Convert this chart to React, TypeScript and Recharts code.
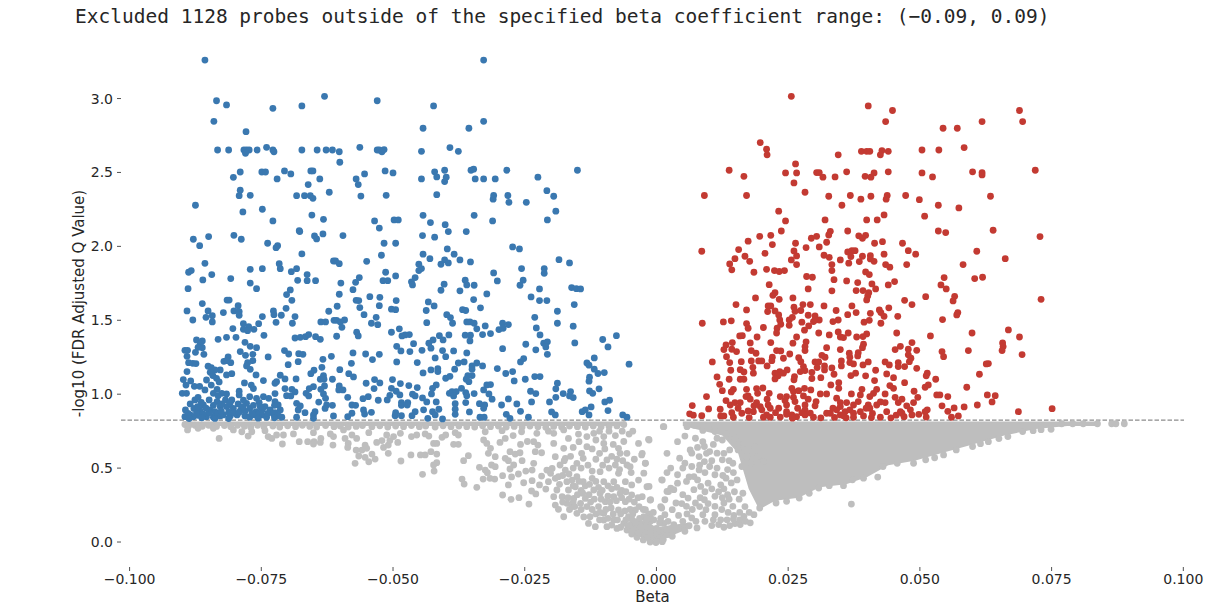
import React from "react";
import {
  ComposedChart,
  Scatter,
  Area,
  XAxis,
  YAxis,
  ReferenceLine,
} from "recharts";

type Pair = [number, number];

const TITLE =
  "Excluded 1128 probes outside of the specified beta coefficient range: (\u22120.09, 0.09)";
const xTicks = [-0.1, -0.075, -0.05, -0.025, 0, 0.025, 0.05, 0.075, 0.1];
const yTicks = [0, 0.5, 1, 1.5, 2, 2.5, 3];
const threshold = 0.825;

// [beta, -log10 q]
const bluePoints: Pair[] = [
  [-0.0857,3.26],[-0.0328,3.26],[-0.0835,2.985],[-0.0816,2.957],[-0.0728,2.934],[-0.0673,2.95],[-0.063,3.015],[-0.053,2.985],[-0.084,2.846],[-0.0779,2.776],
  [-0.0833,2.652],[-0.0812,2.652],[-0.0783,2.652],[-0.0778,2.652],[-0.0773,2.652],[-0.0758,2.652],[-0.0728,2.652],[-0.0673,2.652],[-0.0644,2.652],[-0.0627,2.652],[-0.0615,2.652],[-0.0602,2.64],
  [-0.078,2.63],[-0.0726,2.64],[-0.074,2.67],[-0.0563,2.67],[-0.053,2.652],[-0.0526,2.652],[-0.0521,2.64],[-0.0517,2.655],[-0.0601,2.569],
  [-0.079,2.503],[-0.0749,2.503],[-0.0742,2.503],[-0.0706,2.51],[-0.0694,2.49],[-0.0656,2.51],[-0.0652,2.51],[-0.0515,2.51],[-0.0803,2.467],[-0.072,2.456],[-0.0639,2.456],[-0.057,2.456],[-0.0554,2.49],[-0.0566,2.418],[-0.0661,2.418],
  [-0.079,2.38],[-0.0792,2.343],[-0.0771,2.345],[-0.0683,2.343],[-0.0668,2.343],[-0.0657,2.343],[-0.0652,2.325],[-0.0621,2.366],[-0.0561,2.34],[-0.0513,2.345],[-0.0875,2.278],[-0.0785,2.233],[-0.0748,2.251],[-0.0728,2.172],[-0.0654,2.212],[-0.0632,2.183],[-0.0535,2.172],[-0.0526,2.124],[-0.0678,2.106],
  [-0.0423,2.95],[-0.0443,2.799],[-0.0356,2.799],[-0.0328,2.846],[-0.0446,2.643],[-0.0392,2.668],[-0.0376,2.643],[-0.05,2.497],[-0.0446,2.456],[-0.0421,2.504],[-0.0417,2.47],[-0.0402,2.515],[-0.0399,2.468],[-0.0402,2.438],[-0.0352,2.515],[-0.0347,2.522],[-0.0344,2.456],[-0.0328,2.456],[-0.0306,2.456],[-0.0284,2.515],[-0.0225,2.468],[-0.015,2.515],
  [-0.0208,2.377],[-0.0195,2.339],[-0.0417,2.35],[-0.0309,2.344],[-0.031,2.319],[-0.0282,2.344],[-0.028,2.298],[-0.0247,2.298],[-0.0191,2.238],[-0.0443,2.21],[-0.0346,2.21],[-0.0498,2.179],[-0.049,2.179],[-0.0429,2.161],[-0.0401,2.147],[-0.0311,2.172],[-0.0207,2.179],[-0.0395,2.1],[-0.0361,2.1],[-0.0444,2.073],[-0.0421,2.062],[-0.0495,2.021],
  [-0.0273,1.996],[-0.026,1.983],[-0.0397,1.983],[-0.0443,1.947],[-0.043,1.917],[-0.0384,1.947],[-0.0373,1.908],[-0.0402,1.908],[-0.0409,1.879],[-0.0395,1.888],[-0.0353,1.895],[-0.0185,1.91],[-0.0165,1.888],[-0.0451,1.879],[-0.0446,1.85],[-0.0451,1.836],[-0.0256,1.85],[-0.0213,1.85],[-0.0213,1.818],[-0.0309,1.82],[-0.0495,1.8],[-0.0458,1.789],[-0.0465,1.76],[-0.0463,1.739],[-0.0403,1.744],[-0.0363,1.771],[-0.036,1.739],[-0.0346,1.737],[-0.0302,1.766],[-0.0253,1.771],[-0.0259,1.737],
  [-0.0409,1.703],[-0.0373,1.699],[-0.0322,1.678],[-0.0222,1.712],[-0.0161,1.721],[-0.0152,1.714],[-0.0144,1.712],[-0.0238,1.658],[-0.0494,1.633],[-0.0347,1.64],[-0.0222,1.633],[-0.0208,1.633],[-0.0433,1.624],[-0.0422,1.597],[-0.0156,1.606],[-0.0503,1.575],[-0.0495,1.572],[-0.0437,1.566],[-0.0368,1.572],[-0.0362,1.566],[-0.0334,1.584],[-0.0188,1.561],[-0.0398,1.538],[-0.0391,1.518],[-0.0231,1.52],
  [-0.0436,1.484],[-0.0387,1.48],[-0.036,1.489],[-0.0354,1.489],[-0.0346,1.48],[-0.0292,1.48],[-0.0281,1.471],[-0.0188,1.48],[-0.0325,1.462],[-0.0158,1.46],[-0.0341,1.442],[-0.0299,1.437],[-0.0291,1.446],[-0.0228,1.448],[-0.0488,1.442],[-0.0503,1.419],[-0.033,1.403],[-0.0315,1.41],[-0.0363,1.399],[-0.0353,1.399],[-0.0394,1.401],[-0.0412,1.396],[-0.0469,1.403],[-0.0477,1.401],[-0.0483,1.394],[-0.0221,1.401],[-0.0076,1.396],
  [-0.0424,1.367],[-0.0432,1.345],[-0.0405,1.367],[-0.0354,1.36],[-0.0102,1.37],[-0.0461,1.342],[-0.0248,1.338],[-0.0214,1.345],[-0.0207,1.354],[-0.021,1.32],[-0.0155,1.347],[-0.0493,1.324],[-0.0428,1.311],[-0.0292,1.308],[-0.0229,1.3],[-0.0092,1.32],[-0.0485,1.293],[-0.0468,1.288],[-0.0445,1.297],[-0.0406,1.295],[-0.0385,1.293],[-0.036,1.279],[-0.0207,1.27],[-0.042,1.245],[-0.04,1.254],[-0.0118,1.245],
  [-0.0493,1.218],[-0.0454,1.214],[-0.0376,1.211],[-0.0365,1.218],[-0.0341,1.211],[-0.035,1.191],[-0.033,1.191],[-0.0258,1.218],[-0.0252,1.241],[-0.0132,1.211],[-0.0128,1.196],[-0.0052,1.203],[-0.0415,1.173],[-0.0428,1.164],[-0.0415,1.153],[-0.0383,1.169],[-0.035,1.169],[-0.0302,1.173],[-0.0118,1.169],[-0.0111,1.14],[-0.0099,1.146],[-0.0443,1.144],[-0.0273,1.153],[-0.0286,1.14],
  [-0.0392,1.121],[-0.04,1.108],[-0.035,1.126],[-0.0358,1.126],[-0.0361,1.101],[-0.0356,1.085],[-0.0231,1.119],[-0.0221,1.119],[-0.0249,1.101],[-0.027,1.09],[-0.0127,1.115],[-0.0128,1.088],[-0.0501,1.099],[-0.0188,1.074],[-0.0486,1.072],[-0.047,1.058],[-0.0454,1.045],[-0.0418,1.063],[-0.0425,1.04],[-0.0322,1.063],[-0.0315,1.065],[-0.0328,1.029],[-0.037,1.04],
  [-0.0503,1.04],[-0.0494,1.02],[-0.0487,0.995],[-0.038,1.018],[-0.0388,1.018],[-0.0393,1.006],[-0.0385,0.988],[-0.0362,1.011],[-0.036,0.99],[-0.0346,1.004],[-0.0318,1.002],[-0.0191,1.036],[-0.0239,1.02],[-0.0229,1.004],[-0.0127,1.022],[-0.0121,1.006],[-0.0109,1.036],[-0.0177,1.004],[-0.0163,1.018],[-0.0165,0.988],[-0.0158,0.977],[-0.0191,0.979],[-0.0463,1.0],[-0.0458,0.988],[-0.0427,1.002],[-0.0444,0.975],
  [-0.0436,0.948],[-0.0418,0.948],[-0.0312,0.966],[-0.0281,0.968],[-0.0265,0.934],[-0.0237,0.948],[-0.0203,0.948],[-0.0098,0.948],[-0.0089,0.959],[-0.0484,0.943],[-0.0472,0.943],[-0.0484,0.925],[-0.0473,0.927],[-0.0382,0.936],[-0.0362,0.943],[-0.0336,0.936],[-0.0326,0.927],[-0.0328,0.905],[-0.0294,0.927],[-0.0124,0.914],[-0.0092,0.889],[-0.0141,0.882],[-0.0135,0.894],[-0.0128,0.86],[-0.0413,0.898],[-0.0425,0.882],[-0.042,0.86],[-0.0442,0.894],[-0.0382,0.898],[-0.0382,0.864],[-0.0458,0.882],[-0.0464,0.855],[-0.0355,0.88],[-0.0495,0.875],[-0.0496,0.855],[-0.0484,0.855],[-0.0258,0.884],[-0.0285,0.864],[-0.0278,0.837],[-0.0199,0.88],[-0.0192,0.86],[-0.0064,0.86],[-0.0056,0.844],[-0.0335,0.844],[-0.0327,0.844],[-0.0243,0.844],[-0.0434,0.837],[-0.0406,0.833],
  [-0.0879,2.048],[-0.085,2.066],[-0.0867,2.005],[-0.0802,2.075],[-0.0788,2.048],[-0.0738,2.021],[-0.0719,2.005],[-0.0722,1.991],[-0.0677,2.1],[-0.0649,2.07],[-0.0645,2.05],[-0.0633,2.084],[-0.0595,2.073],[-0.0517,2.021],[-0.0673,1.949],[-0.0522,1.94],[-0.055,1.899],[-0.0613,1.901],[-0.0609,1.901],[-0.0602,1.883],[-0.0857,1.885],[-0.0716,1.883],[-0.0714,1.849],[-0.0771,1.845],[-0.0748,1.849],[-0.0683,1.849],[-0.0693,1.829],[-0.0888,1.825],[-0.0883,1.836],[-0.0844,1.809],[-0.0663,1.809],[-0.0663,1.768],[-0.0514,1.825],[-0.0519,1.768],[-0.051,1.768],[-0.0861,1.773],[-0.0808,1.782],[-0.0771,1.752],[-0.0681,1.77],[-0.0647,1.768],[-0.0599,1.752],[-0.0564,1.789],[-0.0571,1.757],
  [-0.0889,1.714],[-0.0759,1.714],[-0.0695,1.705],[-0.0702,1.674],[-0.0576,1.707],[-0.0602,1.676],[-0.0544,1.66],[-0.0525,1.655],[-0.0692,1.635],[-0.0815,1.637],[-0.0811,1.637],[-0.0862,1.613],[-0.057,1.635],[-0.0565,1.633],[-0.0794,1.599],[-0.0526,1.599],[-0.0606,1.595],[-0.0563,1.586],[-0.0703,1.581],[-0.0891,1.563],[-0.0851,1.563],[-0.0822,1.552],[-0.0802,1.563],[-0.0792,1.559],[-0.0792,1.534],[-0.0727,1.563],[-0.0726,1.538],[-0.0712,1.534],[-0.0622,1.561],[-0.0555,1.538],[-0.0855,1.52],[-0.0843,1.531],[-0.0843,1.489],[-0.0748,1.525],[-0.0686,1.525],[-0.088,1.502],[-0.0722,1.486],[-0.0691,1.48],[-0.0755,1.477],[-0.0637,1.489],[-0.0628,1.489],[-0.0612,1.5],[-0.0607,1.5],[-0.0592,1.502],[-0.06,1.489],[-0.0532,1.52],[-0.0541,1.48],[-0.0529,1.47],
  [-0.0784,1.477],[-0.0774,1.457],[-0.0784,1.439],[-0.0776,1.43],[-0.0764,1.439],[-0.0804,1.444],[-0.0597,1.452],[-0.0745,1.398],[-0.0816,1.385],[-0.0798,1.385],[-0.0686,1.38],[-0.0676,1.385],[-0.0666,1.389],[-0.066,1.403],[-0.0647,1.389],[-0.0638,1.371],[-0.0607,1.392],[-0.0569,1.419],[-0.0566,1.394],[-0.0832,1.371],[-0.0873,1.367],[-0.0862,1.36],[-0.0866,1.338],[-0.0862,1.315],[-0.087,1.317],[-0.0781,1.351],[-0.0771,1.324],[-0.0759,1.315],[-0.0895,1.297],[-0.089,1.297],[-0.0875,1.283],[-0.0859,1.27],[-0.079,1.288],[-0.0706,1.295],[-0.0698,1.272],[-0.0679,1.274],[-0.0671,1.27],[-0.0576,1.279],[-0.0552,1.272],[-0.0526,1.27],[-0.0766,1.27],[-0.078,1.263],[-0.0891,1.256],[-0.0737,1.252],[-0.0617,1.256],[-0.0633,1.236],[-0.0539,1.234],
  [-0.0813,1.252],[-0.0821,1.222],[-0.0808,1.213],[-0.0816,1.227],[-0.0766,1.227],[-0.0776,1.213],[-0.0888,1.213],[-0.088,1.209],[-0.0874,1.207],[-0.068,1.22],[-0.0699,1.2],[-0.0579,1.209],[-0.0851,1.189],[-0.0845,1.18],[-0.0828,1.164],[-0.0838,1.164],[-0.0778,1.191],[-0.0771,1.168],[-0.0635,1.182],[-0.0601,1.166],[-0.065,1.162],[-0.0656,1.139],[-0.0891,1.153],[-0.0584,1.139],[-0.0575,1.117],[-0.0847,1.148],[-0.0842,1.126],[-0.0835,1.107],[-0.083,1.083],[-0.0816,1.13],[-0.0806,1.139],[-0.076,1.13],[-0.0714,1.128],[-0.0705,1.103],[-0.0684,1.103],[-0.0632,1.126],[-0.0638,1.101],[-0.0631,1.101],[-0.0615,1.101],[-0.0535,1.099],[-0.0525,1.076],
  [-0.0898,1.099],[-0.0884,1.09],[-0.0854,1.096],[-0.0746,1.092],[-0.0551,1.074],[-0.0721,1.085],[-0.0724,1.074],[-0.0782,1.076],[-0.0893,1.062],[-0.0877,1.053],[-0.0867,1.053],[-0.0845,1.062],[-0.0769,1.062],[-0.0765,1.038],[-0.0705,1.038],[-0.0692,1.033],[-0.0686,1.015],[-0.0659,1.038],[-0.0651,1.051],[-0.0665,1.006],[-0.066,0.988],[-0.063,1.056],[-0.0637,1.033],[-0.0632,1.002],[-0.0628,0.972],[-0.0602,1.056],[-0.0603,1.029],[-0.0595,1.029],[-0.0536,1.038],[-0.0857,1.029],[-0.0834,1.033],[-0.0825,1.006],[-0.0841,1.006],[-0.0832,0.99],[-0.0816,1.002],[-0.09,1.006],[-0.0892,1.006],[-0.0792,1.02],[-0.0792,0.995],[-0.0724,1.004],[-0.0702,0.99],[-0.0694,0.988],[-0.0547,0.983],[-0.0557,0.97],[-0.0586,0.979],[-0.0506,0.992],[-0.0511,0.961],
  [-0.0772,0.983],[-0.0759,0.972],[-0.0746,0.983],[-0.0736,0.972],[-0.0876,0.961],[-0.087,0.979],[-0.0849,0.961],[-0.0834,0.95],[-0.0818,0.961],[-0.0806,0.961],[-0.0794,0.934],[-0.0778,0.938],[-0.0754,0.943],[-0.0724,0.95],[-0.0718,0.927],[-0.0641,0.947],[-0.0528,0.959],[-0.0885,0.934],[-0.086,0.927],[-0.0683,0.938],[-0.0676,0.92],[-0.0626,0.927],[-0.0615,0.925],[-0.0578,0.927],[-0.0571,0.925],
  [-0.0894,0.893],[-0.0878,0.904],[-0.0867,0.893],[-0.0847,0.893],[-0.0828,0.916],[-0.0838,0.882],[-0.0816,0.916],[-0.0803,0.904],[-0.0789,0.893],[-0.0772,0.904],[-0.076,0.882],[-0.0743,0.916],[-0.0733,0.893],[-0.0714,0.893],[-0.068,0.893],[-0.0648,0.882],[-0.0629,0.904],[-0.0556,0.893],[-0.0541,0.877],[-0.0578,0.871],[-0.0885,0.86],[-0.087,0.857],[-0.0854,0.848],[-0.0822,0.86],[-0.0809,0.853],[-0.0796,0.86],[-0.0781,0.853],[-0.0762,0.86],[-0.0749,0.86],[-0.0727,0.866],[-0.0711,0.844],[-0.0667,0.875],[-0.0651,0.86],[-0.0613,0.853],[-0.0586,0.848],[-0.0554,0.866],[-0.0895,0.848],[-0.0879,0.848],[-0.0841,0.844],[-0.0828,0.853],[-0.0772,0.844],[-0.074,0.844],[-0.0683,0.844],[-0.0651,0.837],
  [-0.0889,0.87],[-0.0873,0.875],[-0.0861,0.868],[-0.0849,0.875],[-0.0833,0.868],[-0.0826,0.885],[-0.0812,0.878],[-0.0801,0.872],[-0.0792,0.878],[-0.0781,0.885],[-0.0768,0.87],[-0.0755,0.868],[-0.0748,0.895],[-0.0738,0.87],[-0.0724,0.875],[-0.0718,0.855],[-0.0812,0.835],[-0.0838,0.836],[-0.0863,0.84],[-0.0887,0.835],[-0.0756,0.838],[-0.0725,0.84],[-0.0871,0.915],[-0.0855,0.905],[-0.0841,0.925],[-0.0825,0.935],[-0.0811,0.925],[-0.0785,0.915],[-0.0765,0.925],[-0.0752,0.915],[-0.0725,0.925],[-0.0864,0.945],[-0.0809,0.942],[-0.0784,0.96],
];

const redPoints: Pair[] = [
  [0.0256,3.015],[0.0402,2.95],[0.0448,2.919],[0.0435,2.844],[0.0689,2.919],[0.0695,2.844],[0.0618,2.844],[0.0544,2.799],[0.0571,2.799],[0.0197,2.702],[0.0209,2.657],[0.021,2.619],[0.0389,2.643],[0.0399,2.643],[0.0405,2.643],[0.0428,2.648],[0.0425,2.619],[0.044,2.643],[0.0345,2.619],[0.0504,2.652],[0.0536,2.652],[0.0584,2.668],[0.0264,2.558],
  [0.0138,2.515],[0.0166,2.474],[0.0245,2.497],[0.0266,2.497],[0.0304,2.499],[0.0309,2.499],[0.0316,2.468],[0.0339,2.47],[0.0361,2.504],[0.0396,2.474],[0.0407,2.468],[0.0413,2.497],[0.044,2.504],[0.0504,2.497],[0.0524,2.47],[0.06,2.504],[0.0618,2.499],[0.0618,2.483],[0.0719,2.515],[0.0261,2.429],[0.0282,2.366],[0.0091,2.344],[0.0171,2.344],[0.0327,2.339],[0.0368,2.344],[0.0388,2.319],[0.0407,2.339],[0.0438,2.344],[0.0436,2.319],[0.0473,2.344],[0.0499,2.316],[0.0634,2.339],
  [0.0352,2.278],[0.0535,2.278],[0.0574,2.26],[0.0232,2.238],[0.0432,2.213],[0.0509,2.204],[0.0245,2.172],[0.032,2.179],[0.0399,2.179],[0.0419,2.179],[0.0237,2.104],[0.033,2.102],[0.0363,2.104],[0.0535,2.104],[0.0549,2.093],[0.0639,2.109],[0.0196,2.068],[0.0217,2.075],[0.0294,2.055],[0.0304,2.068],[0.0327,2.077],[0.0384,2.071],[0.0397,2.075],[0.0391,2.055],[0.0728,2.066],[0.0174,2.035],[0.022,2.012],[0.0264,2.021],[0.0323,2.028],[0.0414,2.021],[0.0429,2.032],[0.0467,2.021],
  [0.0284,1.992],[0.0309,1.996],[0.0086,1.967],[0.0156,1.978],[0.0261,1.969],[0.0206,1.953],[0.0363,1.962],[0.0371,1.971],[0.0377,1.971],[0.0369,1.931],[0.0478,1.971],[0.0492,1.947],[0.0608,1.967],[0.0168,1.933],[0.0149,1.917],[0.0177,1.899],[0.0266,1.935],[0.0256,1.908],[0.0266,1.877],[0.0318,1.94],[0.0328,1.926],[0.0349,1.908],[0.0391,1.933],[0.0385,1.897],[0.0406,1.938],[0.0406,1.915],[0.0413,1.899],[0.0432,1.947],[0.0365,1.886],[0.0475,1.877],[0.0662,1.917],[0.0139,1.881],[0.0143,1.841],[0.0582,1.877],[0.0333,1.877],[0.0333,1.836],[0.0435,1.877],[0.0443,1.859],[0.0209,1.845],[0.0224,1.836],[0.0233,1.83],[0.0243,1.836],[0.0185,1.825],[0.0397,1.827],[0.0404,1.809],
  [0.0285,1.796],[0.0296,1.791],[0.0546,1.789],[0.0604,1.782],[0.0619,1.791],[0.0337,1.775],[0.0361,1.766],[0.0382,1.755],[0.0452,1.762],[0.044,1.739],[0.0409,1.746],[0.0214,1.741],[0.054,1.739],[0.055,1.712],[0.0288,1.712],[0.0416,1.712],[0.0333,1.699],[0.0379,1.701],[0.0392,1.701],[0.0403,1.687],[0.0225,1.687],[0.0221,1.669],[0.0511,1.66],[0.0566,1.662],[0.0188,1.651],[0.0259,1.651],[0.0233,1.642],[0.0401,1.665],[0.0399,1.638],[0.0471,1.635],[0.0563,1.631],[0.073,1.642],
  [0.0151,1.606],[0.0278,1.606],[0.0292,1.606],[0.0318,1.597],[0.0485,1.606],[0.0212,1.597],[0.0217,1.597],[0.0371,1.597],[0.0261,1.588],[0.0441,1.584],[0.0171,1.57],[0.0211,1.559],[0.0225,1.563],[0.0263,1.561],[0.0274,1.566],[0.0341,1.566],[0.0423,1.57],[0.0426,1.552],[0.0379,1.552],[0.0363,1.538],[0.0406,1.547],[0.0572,1.552],[0.057,1.536],[0.0232,1.536],[0.0234,1.502],[0.0288,1.534],[0.0301,1.53],[0.0458,1.527],[0.0432,1.527],[0.0258,1.52],[0.0252,1.502],[0.0345,1.502],[0.0335,1.491],[0.0309,1.502],[0.0298,1.491],[0.0301,1.502],[0.0543,1.505],[0.0404,1.5],[0.0394,1.487],
  [0.0127,1.489],[0.0142,1.496],[0.0087,1.48],[0.0171,1.478],[0.0174,1.446],[0.0236,1.473],[0.0252,1.466],[0.0276,1.487],[0.0426,1.48],[0.0289,1.462],[0.0281,1.433],[0.0203,1.451],[0.0229,1.446],[0.0228,1.414],[0.0668,1.435],[0.0345,1.421],[0.0364,1.414],[0.0308,1.414],[0.0456,1.414],[0.0599,1.414],[0.0328,1.401],[0.0399,1.408],[0.0392,1.39],[0.0158,1.394],[0.0163,1.396],[0.0191,1.387],[0.0266,1.387],[0.0349,1.387],[0.0355,1.383],[0.038,1.387],[0.052,1.394],[0.0689,1.387],
  [0.0144,1.349],[0.0132,1.333],[0.0128,1.302],[0.0178,1.347],[0.0217,1.349],[0.0259,1.345],[0.0284,1.354],[0.0282,1.322],[0.0282,1.295],[0.0393,1.338],[0.0391,1.315],[0.0485,1.349],[0.0478,1.304],[0.0494,1.297],[0.0463,1.324],[0.0453,1.302],[0.0657,1.347],[0.0658,1.322],[0.0656,1.295],[0.0323,1.315],[0.0349,1.302],[0.0143,1.304],[0.0152,1.288],[0.018,1.295],[0.0189,1.277],[0.0228,1.295],[0.0236,1.293],[0.0542,1.288],[0.0545,1.254],[0.0592,1.295],[0.0694,1.268],[0.0253,1.272],[0.0241,1.243],[0.0366,1.277],[0.0383,1.281],[0.0367,1.25],[0.0382,1.259],[0.0314,1.263],[0.032,1.25],[0.0133,1.254],[0.022,1.25],[0.0219,1.227],[0.0478,1.266],[0.0483,1.243],[0.048,1.22],[0.027,1.247],[0.0274,1.22],
  [0.0106,1.218],[0.0139,1.214],[0.0161,1.22],[0.018,1.225],[0.0194,1.225],[0.02,1.225],[0.0301,1.218],[0.0308,1.218],[0.0351,1.225],[0.0367,1.214],[0.0374,1.205],[0.0402,1.218],[0.0392,1.198],[0.0434,1.218],[0.0442,1.198],[0.0459,1.214],[0.0459,1.187],[0.063,1.207],[0.0626,1.205],[0.021,1.191],[0.0183,1.182],[0.0305,1.18],[0.0319,1.191],[0.0319,1.164],[0.0333,1.178],[0.0351,1.191],[0.0279,1.187],[0.0282,1.16],[0.0273,1.153],[0.0471,1.187],[0.0494,1.175],
  [0.0141,1.162],[0.0159,1.166],[0.0166,1.15],[0.0184,1.142],[0.0248,1.164],[0.0234,1.153],[0.0225,1.142],[0.0231,1.124],[0.0241,1.142],[0.0416,1.162],[0.0295,1.148],[0.0337,1.135],[0.0378,1.142],[0.0369,1.126],[0.0437,1.137],[0.045,1.112],[0.0514,1.142],[0.0512,1.124],[0.0613,1.135],[0.0115,1.117],[0.0262,1.119],[0.0261,1.097],[0.0397,1.124],[0.0295,1.106],[0.0312,1.112],[0.0138,1.101],[0.0159,1.101],[0.0166,1.101],[0.0225,1.103],[0.053,1.101],[0.0414,1.092],
  [0.012,1.067],[0.0331,1.063],[0.0346,1.078],[0.0346,1.04],[0.0471,1.078],[0.0443,1.058],[0.045,1.04],[0.0516,1.063],[0.051,1.047],[0.0589,1.047],[0.0125,1.024],[0.0146,1.033],[0.0142,1.015],[0.0171,1.033],[0.019,1.038],[0.0202,1.042],[0.0192,1.006],[0.0214,1.006],[0.0257,1.04],[0.026,1.018],[0.027,1.024],[0.0281,1.04],[0.0293,1.029],[0.039,1.033],[0.0387,0.995],[0.0418,1.033],[0.0412,1.006],[0.0405,0.984],[0.0434,1.002],[0.0489,1.02],[0.0628,0.995],[0.0643,0.99],[0.0532,0.995],[0.0538,0.995],[0.0553,0.984],
  [0.0095,0.984],[0.0174,0.988],[0.017,0.984],[0.0178,0.966],[0.0235,0.984],[0.0247,0.984],[0.026,0.979],[0.0279,0.988],[0.0288,0.966],[0.0311,1.002],[0.0323,1.002],[0.0342,0.973],[0.037,1.002],[0.0453,0.979],[0.0496,0.979],[0.0132,0.957],[0.014,0.927],[0.0149,0.943],[0.0159,0.943],[0.019,0.943],[0.0185,0.921],[0.0197,0.916],[0.021,0.966],[0.0212,0.927],[0.0244,0.957],[0.0247,0.927],[0.0263,0.95],[0.0282,0.927],[0.0303,0.95],[0.0301,0.921],[0.0349,0.943],[0.0361,0.943],[0.0349,0.916],[0.0374,0.927],[0.0383,0.95],[0.0402,0.927],[0.0418,0.927],[0.0425,0.948],[0.0434,0.943],[0.0459,0.943],[0.0466,0.966],[0.0488,0.943],[0.0475,0.921],[0.0542,0.921],[0.0637,0.948],[0.0609,0.927],
  [0.0068,0.923],[0.0099,0.9],[0.0121,0.898],[0.0232,0.905],[0.0216,0.905],[0.0174,0.887],[0.0184,0.882],[0.02,0.894],[0.0247,0.882],[0.0282,0.894],[0.0276,0.875],[0.0342,0.894],[0.0358,0.882],[0.0367,0.894],[0.0387,0.882],[0.0405,0.905],[0.0437,0.882],[0.0463,0.882],[0.0482,0.894],[0.0514,0.894],[0.051,0.882],[0.0553,0.884],[0.0565,0.907],[0.0584,0.914],[0.0687,0.882],[0.0751,0.902],
  [0.0063,0.867],[0.007,0.858],[0.0086,0.855],[0.0143,0.875],[0.0162,0.871],[0.0122,0.853],[0.0128,0.853],[0.0146,0.844],[0.0209,0.86],[0.0203,0.844],[0.0216,0.844],[0.0247,0.864],[0.0257,0.86],[0.0266,0.848],[0.0282,0.86],[0.0298,0.844],[0.0323,0.871],[0.033,0.871],[0.0349,0.86],[0.0374,0.871],[0.0374,0.844],[0.0393,0.853],[0.0425,0.844],[0.0466,0.871],[0.047,0.848],[0.0485,0.86],[0.0498,0.864],[0.0573,0.853],[0.056,0.844],
  [0.0176,0.842],[0.0235,0.845],[0.0312,0.84],[0.0338,0.843],[0.036,0.84],[0.0408,0.842],[0.0445,0.84],[0.0455,0.858],[0.0512,0.845],[0.0258,0.838],[0.0292,0.872],[0.0355,0.855],[0.041,0.87],[0.0398,0.905],[0.0335,0.905],[0.0268,0.905],[0.0226,0.875],[0.0155,0.905],
];

const grayStrip: Pair[] = [
  [-0.0895,0.795],[-0.0888,0.785],[-0.0876,0.79],[-0.0862,0.783],[-0.085,0.79],[-0.0835,0.782],[-0.082,0.788],[-0.0808,0.78],[-0.0795,0.79],[-0.0782,0.783],[-0.077,0.776],[-0.0757,0.79],[-0.0745,0.78],[-0.0728,0.784],[-0.0715,0.778],[-0.07,0.786],[-0.0685,0.78],[-0.0672,0.79],[-0.0658,0.782],[-0.0645,0.778],[-0.0628,0.788],[-0.0612,0.78],[-0.06,0.784],[-0.0585,0.778],[-0.057,0.782],[-0.0558,0.788],[-0.054,0.78],[-0.0525,0.786],[-0.051,0.778],[-0.0495,0.784],[-0.048,0.78],[-0.0465,0.788],[-0.045,0.78],[-0.0438,0.784],[-0.042,0.778],[-0.0405,0.786],[-0.039,0.78],[-0.0375,0.784],[-0.036,0.78],[-0.0345,0.778],[-0.033,0.786],[-0.0315,0.78],[-0.03,0.784],[-0.0285,0.778],[-0.027,0.782],[-0.0255,0.778],[-0.024,0.784],[-0.0225,0.78],[-0.021,0.776],[-0.0195,0.782],[-0.018,0.778],[-0.0165,0.784],[-0.015,0.78],[-0.0135,0.778],[-0.012,0.784],[-0.0105,0.78],[-0.009,0.782],[-0.0075,0.785],[-0.0062,0.795],
];

const grayLeft: Pair[] = [
  [-0.089,0.758],[-0.087,0.769],[-0.0841,0.769],[-0.083,0.701],[-0.0803,0.758],[-0.0787,0.746],[-0.0775,0.717],[-0.0768,0.746],[-0.0743,0.753],[-0.0737,0.713],[-0.073,0.701],[-0.0721,0.724],[-0.0708,0.724],[-0.071,0.663],[-0.0689,0.731],[-0.0678,0.679],[-0.0662,0.679],[-0.0651,0.74],[-0.065,0.679],[-0.0651,0.663],[-0.0637,0.701],[-0.0638,0.674],
  [-0.0619,0.731],[-0.0613,0.713],[-0.0614,0.656],[-0.0594,0.758],[-0.0591,0.701],[-0.0578,0.724],[-0.0585,0.667],[-0.0586,0.64],[-0.0569,0.701],[-0.0546,0.74],[-0.0553,0.656],[-0.055,0.634],[-0.0559,0.622],[-0.057,0.622],[-0.0565,0.582],[-0.0572,0.532],[-0.0553,0.573],[-0.054,0.595],[-0.0546,0.543],[-0.0534,0.561],
  [-0.0531,0.674],[-0.0521,0.686],[-0.0518,0.64],[-0.0509,0.656],[-0.0506,0.686],[-0.0512,0.724],[-0.0499,0.713],[-0.0486,0.735],[-0.0491,0.674],[-0.0509,0.6],[-0.0485,0.548],[-0.0466,0.589],[-0.0465,0.713],[-0.0455,0.724],[-0.0439,0.731],[-0.0432,0.717],[-0.0448,0.589],[-0.0439,0.589],[-0.0428,0.611],[-0.0417,0.595],[-0.0417,0.537],[-0.0423,0.521],[-0.0422,0.48],[-0.0444,0.458],
  [-0.0423,0.667],[-0.0417,0.667],[-0.0407,0.708],[-0.04,0.724],[-0.0385,0.661],[-0.0376,0.661],[-0.0382,0.74],[-0.0376,0.724],[-0.0366,0.55],[-0.0357,0.584],[-0.0369,0.426],[-0.0365,0.392],[-0.0341,0.37],[-0.0329,0.426],[-0.0336,0.505],[-0.0325,0.487],[-0.0316,0.431],[-0.0307,0.426],[-0.0321,0.469],[-0.0313,0.521],[-0.0306,0.51],[-0.0292,0.449],[-0.0281,0.386],[-0.0292,0.318],[-0.0276,0.289],[-0.0261,0.3],[-0.0242,0.257],[-0.0252,0.401],[-0.0237,0.345],[-0.0229,0.325],
  [-0.0325,0.746],[-0.0328,0.69],[-0.0322,0.667],[-0.0315,0.634],[-0.0319,0.6],[-0.0306,0.577],[-0.0297,0.674],[-0.0287,0.701],[-0.0278,0.611],[-0.0268,0.595],[-0.0259,0.604],[-0.0281,0.55],[-0.0271,0.521],[-0.0278,0.494],[-0.0287,0.566],[-0.0293,0.753],[-0.0256,0.746],[-0.0227,0.735],[-0.0233,0.679],[-0.0225,0.656],[-0.023,0.611],[-0.0218,0.604],[-0.0233,0.532],[-0.0236,0.487],[-0.0218,0.446],[-0.0236,0.415],[-0.0222,0.386],[-0.021,0.358],[-0.0205,0.408],[-0.0201,0.465],[-0.0208,0.487],[-0.0198,0.498],[-0.0192,0.577],[-0.0176,0.634],[-0.0173,0.566],[-0.0195,0.667],[-0.0195,0.735],[-0.0176,0.758],
  [-0.0192,0.431],[-0.0183,0.521],[-0.0173,0.487],[-0.0186,0.442],[-0.017,0.408],[-0.016,0.419],[-0.0151,0.442],[-0.0151,0.532],[-0.0139,0.566],[-0.0132,0.645],[-0.0132,0.713],[-0.0167,0.701],[-0.0147,0.679],[-0.0119,0.735],[-0.01,0.713],[-0.01,0.667],[-0.0072,0.634],[-0.0034,0.667],[-0.0015,0.695],[-0.0027,0.6],[0.002,0.6],[0.0014,0.78],
  [-0.0189,0.352],[-0.0195,0.307],[-0.0179,0.307],[-0.0192,0.25],[-0.0186,0.221],[-0.0176,0.171],[-0.0167,0.352],[-0.0154,0.374],[-0.0139,0.408],[-0.0122,0.431],[-0.0157,0.295],[-0.017,0.262],[-0.016,0.239],[-0.0144,0.262],[-0.0135,0.295],[-0.0151,0.194],[-0.0129,0.126],[-0.0116,0.104],[-0.0126,0.171],[-0.0119,0.352],[-0.01,0.408],[-0.0081,0.408],[-0.0107,0.476],[-0.0094,0.555],[-0.0078,0.521],[-0.0069,0.6],[-0.0056,0.521],[-0.005,0.51],[-0.0072,0.465],[-0.0059,0.408],[-0.0047,0.386],[-0.0034,0.419],[-0.0021,0.532],[-0.0018,0.374],[-0.0027,0.307],[-0.0012,0.284],[0.0011,0.419],[0.0008,0.239],[0.0023,0.341],
  [-0.0107,0.329],[-0.0097,0.273],[-0.011,0.239],[-0.01,0.194],[-0.0081,0.307],[-0.0069,0.329],[-0.0059,0.273],[-0.0072,0.217],[-0.0047,0.318],[-0.004,0.217],[-0.0024,0.171],[-0.0053,0.171],[-0.0094,0.104],[-0.0075,0.092],[-0.01,0.149],[-0.0081,0.149],[-0.0062,0.126],[-0.004,0.126],[-0.0012,0.138],[0.0014,0.126],
  [-0.0056,0.081],[-0.0047,0.054],[-0.0037,0.032],[-0.0025,0.014],[-0.0012,0],[-0.0001,-0.004],[0.0011,0.002],[-0.0037,0.092],[-0.0025,0.07],[-0.0012,0.059],[0,0.047],[0,0.092],[0.0014,0.07],
];

const grayCore: Pair[] = [
  [-0.0184,0.39],[-0.0178,0.45],[-0.0166,0.46],[-0.0158,0.38],[-0.0147,0.41],[-0.0143,0.35],[-0.0135,0.38],[-0.0127,0.39],[-0.0115,0.41],[-0.011,0.37],[-0.0103,0.35],[-0.0092,0.38],[-0.0085,0.36],[-0.0075,0.37],[-0.0066,0.35],[-0.0058,0.34],[-0.0178,0.27],[-0.0168,0.3],[-0.0158,0.27],[-0.015,0.32],[-0.014,0.33],[-0.0128,0.32],[-0.0125,0.27],[-0.0118,0.29],[-0.0105,0.29],[-0.0092,0.31],[-0.0088,0.27],[-0.0076,0.28],[-0.0066,0.3],[-0.0052,0.29],[-0.0042,0.27],[-0.0035,0.3],
  [-0.0165,0.22],[-0.0155,0.24],[-0.0143,0.22],[-0.0132,0.24],[-0.0122,0.22],[-0.0115,0.19],[-0.0107,0.2],[-0.0096,0.22],[-0.0086,0.23],[-0.0082,0.19],[-0.0068,0.19],[-0.006,0.21],[-0.005,0.22],[-0.0045,0.19],[-0.0033,0.24],[-0.0025,0.22],[-0.0015,0.19],[-0.0006,0.2],[-0.0138,0.17],[-0.0108,0.15],[-0.0092,0.16],[-0.0074,0.15],[-0.0058,0.15],[-0.0046,0.15],[-0.0032,0.16],[-0.002,0.14],[-0.0005,0.15],[0.0008,0.16],[-0.0085,0.115],[-0.0068,0.1],[-0.0052,0.11],[-0.0044,0.085],[-0.0028,0.1],[-0.0033,0.065],[-0.0017,0.03],[0.0006,0.03],[0.002,0.05],
  [-0.0175,0.55],[-0.0163,0.58],[-0.0158,0.5],[-0.0143,0.5],[-0.013,0.52],[-0.0122,0.48],[-0.0115,0.56],[-0.0108,0.6],[-0.0102,0.52],[-0.0098,0.63],[-0.009,0.5],[-0.0085,0.58],[-0.0082,0.66],[-0.0075,0.56],[-0.007,0.49],[-0.0064,0.55],[-0.0062,0.68],[-0.0056,0.6],[-0.0048,0.47],[-0.0042,0.56],[-0.0158,0.64],[-0.0148,0.73],[-0.0142,0.6],[-0.0122,0.63],[-0.0115,0.69],[-0.0108,0.75],[-0.009,0.75],[-0.0078,0.72],[-0.0065,0.75],[-0.0052,0.73],[-0.0045,0.75],[-0.0205,0.75],[-0.0245,0.68],[-0.0258,0.66],[-0.0272,0.72],[-0.0255,0.55],[-0.0248,0.48],[-0.0262,0.46],[-0.0275,0.44],
];

const grayRight: Pair[] = [
  [0.0013,0.78],[0.004,0.679],[0.0054,0.717],[0.0074,0.702],[0.0064,0.623],[0.0067,0.601],[0.0088,0.679],[0.0091,0.646],[0.0101,0.612],[0.0111,0.747],[0.0115,0.702],[0.0125,0.69],[0.0132,0.735],[0.0149,0.702],[0.0139,0.623],[0.0155,0.623],[0.0166,0.668],[0.0172,0.578],[0.0186,0.646],
  [0.0081,0.578],[0.0091,0.544],[0.0115,0.601],[0.0125,0.556],[0.0145,0.533],[0.0162,0.511],[0.0179,0.533],[0.0193,0.578],[0.0203,0.544],[0.0044,0.567],[0.0054,0.533],[0.0027,0.5],[0.002,0.47],[0.001,0.421],[0.004,0.455],[0.005,0.5],[0.0067,0.511],[0.0081,0.488],[0.0071,0.443],[0.0057,0.41],[0.004,0.398],[0.0027,0.365],[0.0033,0.354],[0.002,0.342],[0.0016,0.286],[-0.0011,0.286],[-0.0014,0.376],[-0.0024,0.466],[-0.0021,0.533],[-0.0028,0.589],[-0.0014,0.69],
  [0.0101,0.511],[0.0111,0.455],[0.0098,0.398],[0.0084,0.376],[0.0071,0.354],[0.006,0.297],[0.005,0.32],[0.0037,0.264],[0.003,0.219],[0.001,0.23],[0.0016,0.185],[0.0006,0.129],[-0.0011,0.163],[-0.0021,0.219],[-0.0018,0.151],
  [0.0132,0.432],[0.0122,0.387],[0.0135,0.32],[0.0111,0.309],[0.0091,0.286],[0.0074,0.264],[0.0057,0.241],[0.0094,0.219],[0.0111,0.241],[0.0128,0.264],[0.0145,0.241],[0.0111,0.185],[0.0088,0.185],[0.0067,0.163],[0.005,0.14],[0.0033,0.118],
  [0.002,0.084],[0,0.005],[0.0013,0.017],[0.003,0.039],[0.0054,0.073],[0.0077,0.095],[0.0105,0.111],[0.0118,0.118],[0.0139,0.111],[0.0159,0.118],[0.0185,0.185],[0.0166,0.174],[0.0196,0.23],[0.0178,0.13],[0.0128,0.1],[0.0149,0.125],
  [0.0227,0.264],[0.0247,0.275],[0.0271,0.297],[0.029,0.33],[0.0308,0.365],[0.0328,0.381],[0.0355,0.381],[0.037,0.257],[0.0372,0.421],[0.0393,0.432],[0.042,0.439],[0.043,0.511],[0.0457,0.533],[0.0488,0.533],[0.0511,0.556],[0.0528,0.57],[0.0545,0.589],[0.0569,0.623],[0.06,0.646],[0.0615,0.665],[0.063,0.679],[0.065,0.7],[0.0667,0.713],[0.0695,0.747],[0.0715,0.753],[0.073,0.76],[0.0749,0.762],
  [0.0769,0.8],[0.079,0.8],[0.081,0.8],[0.0837,0.8],[0.0864,0.8],[0.0872,0.8],[0.0888,0.8],
  [0.0058,0.78],[0.0072,0.79],[0.0088,0.755],[0.0098,0.78],[0.0078,0.64],[0.0095,0.6],[0.0108,0.66],[0.0082,0.52],[0.0092,0.47],[0.0105,0.55],[0.0115,0.5],[0.0062,0.44],[0.0078,0.42],[0.0092,0.34],[0.0105,0.36],[0.0118,0.34],[0.0083,0.3],[0.0068,0.22],[0.0082,0.24],[0.0098,0.26],[0.0048,0.26],[0.0042,0.18],[0.0058,0.19],[0.0075,0.14],[0.0092,0.14],[0.0108,0.15],[0.0022,0.14],[0.0028,0.09],[0.0042,0.09],[0.0062,0.11],
  [0.0128,0.6],[0.0138,0.55],[0.0146,0.47],[0.0135,0.49],[0.0126,0.45],[0.0142,0.4],[0.0153,0.42],[0.0128,0.36],[0.0138,0.29],[0.0148,0.34],[0.0157,0.29],[0.0164,0.33],[0.0125,0.3],[0.0124,0.22],[0.0136,0.2],[0.0147,0.18],[0.0158,0.2],[0.0168,0.24],[0.0176,0.2],[0.0122,0.15],[0.0134,0.15],[0.0146,0.155],[0.0158,0.15],[0.0169,0.14],
];

// where the grey probes overlap into solid colour: [beta, low, high]
const leftStrip: [number, number, number][] = [
  [-0.0895,0.785,0.815],[-0.05,0.785,0.815],[-0.0065,0.785,0.815],
];
const centerBase: [number, number, number][] = [
  [-0.006,0.09,0.12],[-0.004,0.045,0.16],[-0.002,0.02,0.14],[0,0.01,0.1],[0.002,0.03,0.11],[0.004,0.06,0.12],[0.006,0.09,0.13],
];
const rightMass: [number, number, number][] = [
  [0.005,0.785,0.815],[0.0125,0.72,0.815],[0.0155,0.6,0.815],[0.0175,0.36,0.815],[0.0195,0.22,0.815],[0.0225,0.28,0.815],[0.027,0.3,0.815],[0.031,0.37,0.815],[0.036,0.39,0.815],[0.04,0.44,0.815],[0.044,0.52,0.815],[0.049,0.55,0.815],[0.054,0.6,0.815],[0.06,0.66,0.815],[0.066,0.72,0.815],[0.072,0.765,0.815],[0.078,0.785,0.815],[0.0838,0.785,0.815],
];

const BLUE = "#3a78b0";
const RED = "#c33a32";
const GRAY = "#bebebe";
const TEXT = "#262626";

const toPoints = (pairs: Pair[]) => pairs.map(([beta, q]) => ({ beta, q }));
const toBand = (rows: [number, number, number][]) =>
  rows.map(([beta, low, high]) => ({ beta, band: [low, high] }));

const dot = (color: string) => (p: any) =>
  <circle cx={p.cx} cy={p.cy} r={3.4} fill={color} />;

const formatX = (v: number) => (v < 0 ? "\u2212" : "") + Math.abs(v).toFixed(3);

export default function App() {
  const tick = { fontSize: 14, fontFamily: "DejaVu Sans", fill: TEXT };
  const axisTitle = { fontSize: 15, fontFamily: "DejaVu Sans", fill: TEXT };
  return (
    <div style={{ position: "absolute", left: 0, top: 0, width: 1224, height: 610, background: "#fff" }}>
      <div
        style={{
          position: "absolute",
          left: 75,
          top: 5,
          fontFamily: "DejaVu Sans Mono",
          fontSize: 19.5,
          color: TEXT,
          whiteSpace: "pre",
        }}
      >
        {TITLE}
      </div>
      <ComposedChart
        width={1224}
        height={610}
        margin={{ top: 40, right: 40, bottom: 0, left: 0 }}
      >
        <XAxis
          type="number"
          dataKey="beta"
          domain={[-0.10163, 0.10013]}
          ticks={xTicks}
          tickFormatter={formatX}
          tick={tick}
          tickSize={4}
          tickMargin={3}
          axisLine={false}
          tickLine={{ stroke: TEXT, strokeWidth: 0.8 }}
          height={43}
          allowDataOverflow
          label={{ value: "Beta", position: "insideBottom", offset: 8, style: axisTitle }}
        />
        <YAxis
          type="number"
          dataKey="q"
          domain={[-0.169, 3.396]}
          ticks={yTicks}
          tickFormatter={(v: number) => v.toFixed(1)}
          tick={tick}
          tickSize={4}
          tickMargin={4}
          axisLine={false}
          tickLine={{ stroke: TEXT, strokeWidth: 0.8 }}
          width={121}
          allowDataOverflow
          label={{
            value: "-log10 (FDR Adjusted Q Value)",
            angle: -90,
            position: "insideLeft",
            offset: 79,
            style: { ...axisTitle, textAnchor: "middle" },
          }}
        />
        <Area data={toBand(leftStrip)} dataKey="band" stroke="none" fill={GRAY} fillOpacity={1} dot={false} activeDot={false} isAnimationActive={false} />
        <Area data={toBand(centerBase)} dataKey="band" stroke="none" fill={GRAY} fillOpacity={1} dot={false} activeDot={false} isAnimationActive={false} />
        <Area data={toBand(rightMass)} dataKey="band" stroke="none" fill={GRAY} fillOpacity={1} dot={false} activeDot={false} isAnimationActive={false} />
        <Scatter data={toPoints(grayStrip)} shape={dot(GRAY)} isAnimationActive={false} />
        <Scatter data={toPoints(grayLeft)} shape={dot(GRAY)} isAnimationActive={false} />
        <Scatter data={toPoints(grayCore)} shape={dot(GRAY)} isAnimationActive={false} />
        <Scatter data={toPoints(grayRight)} shape={dot(GRAY)} isAnimationActive={false} />
        <Scatter data={toPoints(bluePoints)} shape={dot(BLUE)} isAnimationActive={false} />
        <Scatter data={toPoints(redPoints)} shape={dot(RED)} isAnimationActive={false} />
        <ReferenceLine y={threshold} stroke="#8c8c8c" strokeWidth={1.3} strokeDasharray="4.5 2" />
      </ComposedChart>
    </div>
  );
}
